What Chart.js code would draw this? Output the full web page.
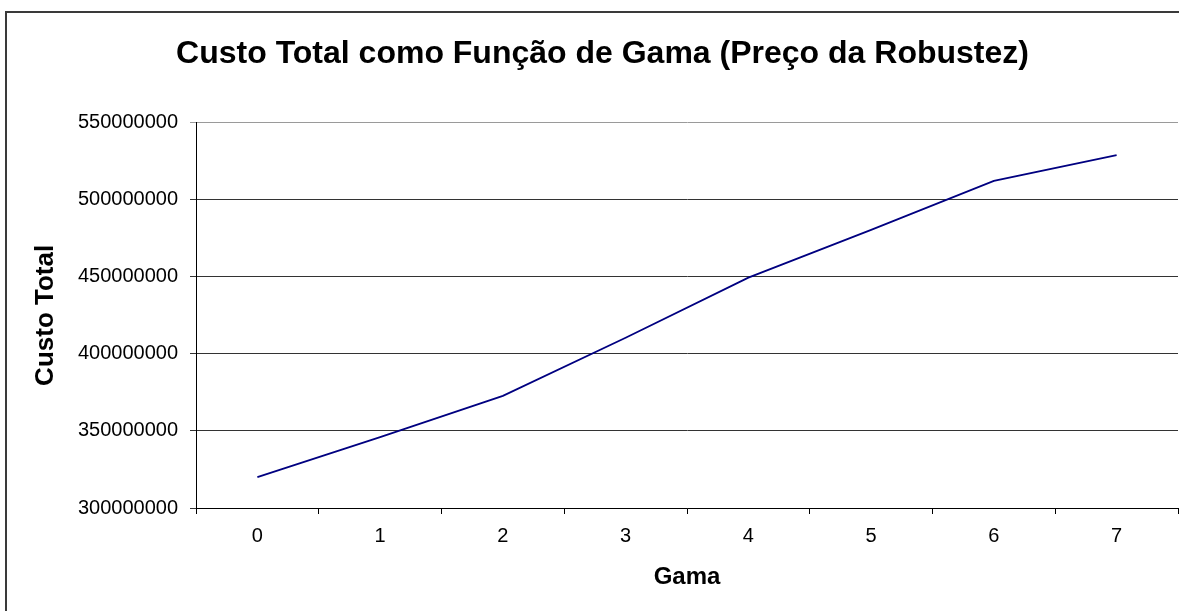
<!DOCTYPE html>
<html>
<head>
<meta charset="utf-8">
<script src="https://cdn.jsdelivr.net/npm/chart.js@4"></script>
<style>
  html, body { margin: 0; padding: 0; background: #fff; }
  #wrap { position: relative; width: 1179px; height: 611px; overflow: hidden; }
  #frame { position: absolute; left: 5px; top: 11px; right: -10px; bottom: -10px;
           border-left: 2px solid #3a3a3a; border-top: 2px solid #3a3a3a; pointer-events: none; }
</style>
</head>
<body>
<div id="wrap">
  <canvas id="custoChart" width="1179" height="611"></canvas>
  <div id="frame"></div>
</div>
<script>
const gamaLabels = ["0", "1", "2", "3", "4", "5", "6", "7"];
const custoTotal = [320000000, 346000000, 372800000, 410500000, 449500000, 480500000, 512300000, 529000000];
const yTicksMin = 300000000;
const yTicksMax = 550000000;
const yTicksStep = 50000000;

const fontFam = "'Liberation Sans', Arial, sans-serif";

const ctx = document.getElementById("custoChart").getContext("2d");
const chart = new Chart(ctx, {
  type: "line",
  data: {
    labels: gamaLabels,
    datasets: [{
      label: "Custo Total",
      data: custoTotal,
      borderColor: "#000080",
      borderWidth: 1.8,
      pointRadius: 0,
      tension: 0,
      fill: false
    }]
  },
  options: {
    responsive: false,
    animation: false,
    layout: { padding: { left: 27, right: 1, top: 0, bottom: 0 } },
    plugins: {
      legend: { display: false },
      tooltip: { enabled: false },
      title: {
        display: true,
        text: "Custo Total como Função de Gama (Preço da Robustez)",
        color: "#000",
        font: { family: fontFam, size: 32, weight: "bold" },
        padding: { top: 34.6, bottom: 49.7 }
      }
    },
    scales: {
      x: {
        type: "category",
        offset: true,
        afterFit: s => { s.height = 103; },
        grid: { offset: true, drawOnChartArea: false, tickLength: 6, color: "#000" },
        border: { color: "#000", width: 1 },
        ticks: {
          color: "#000",
          padding: 10,
          maxRotation: 0,
          font: { family: fontFam, size: 20 }
        },
        title: {
          display: true,
          text: "Gama",
          color: "#000",
          font: { family: fontFam, size: 24, weight: "bold" },
          padding: { top: 0, bottom: 19.6 }
        }
      },
      y: {
        min: yTicksMin,
        max: yTicksMax,
        afterFit: s => { s.width = 169; },
        grid: {
          tickLength: 6,
          color: c => (c.tick && c.tick.value === yTicksMax ? "#9a9a9a" : "#333")
        },
        border: { color: "#000", width: 1 },
        ticks: {
          stepSize: yTicksStep,
          color: "#000",
          padding: 12,
          font: { family: fontFam, size: 20 },
          callback: v => String(v)
        },
        title: {
          display: true,
          text: "Custo Total",
          color: "#000",
          font: { family: fontFam, size: 26, weight: "bold" },
          padding: { top: 3.4, bottom: 0 }
        }
      }
    }
  }
});
</script>
</body>
</html>
